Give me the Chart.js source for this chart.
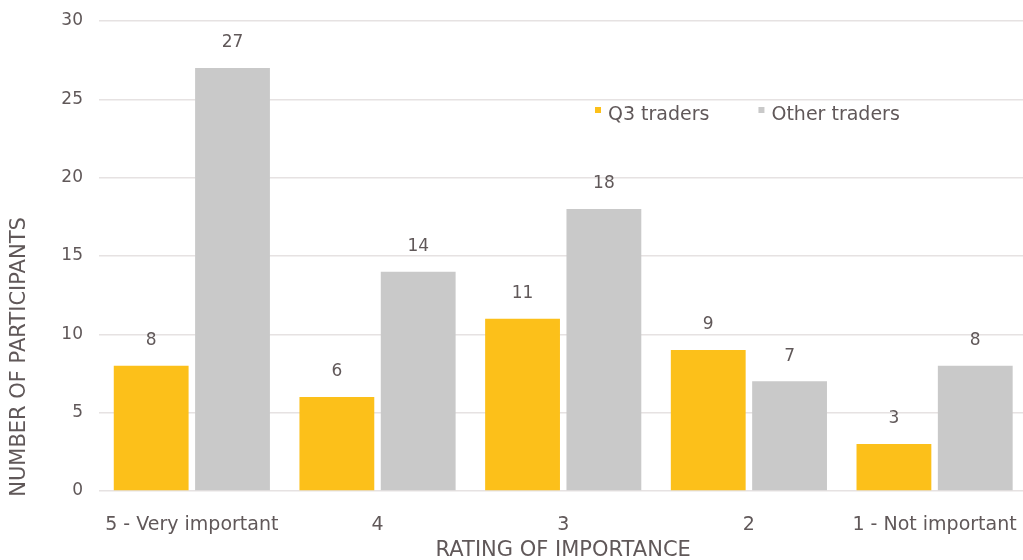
<!DOCTYPE html>
<html>
<head>
<meta charset="utf-8">
<script src="https://cdn.jsdelivr.net/npm/chart.js@4"></script>
<style>
  html, body { margin: 0; padding: 0; background: #fff; overflow: hidden; }
  #wrap { position: relative; width: 1032px; height: 560px; }
</style>
</head>
<body>
<div id="wrap"><canvas id="chart"></canvas></div>
<script>
const categories = ["5 - Very important", "4", "3", "2", "1 - Not important"];
const q3Traders = [8, 6, 11, 9, 3];
const otherTraders = [27, 14, 18, 7, 8];
const yTicks = [0, 5, 10, 15, 20, 25, 30];

const textColor = "#605859";
const fontFamily = "'DejaVu Sans', sans-serif";

// value labels above each bar
const valueLabels = {
  id: "valueLabels",
  afterDatasetsDraw(chart) {
    const ctx = chart.ctx;
    ctx.save();
    ctx.fillStyle = textColor;
    ctx.font = "17px " + fontFamily;
    ctx.textAlign = "center";
    ctx.textBaseline = "middle";
    chart.data.datasets.forEach((ds, i) => {
      chart.getDatasetMeta(i).data.forEach((bar, j) => {
        ctx.fillText(ds.data[j], bar.x, bar.y - 25);
      });
    });
    ctx.restore();
  }
};

// legend inside the plot, small squares sitting high
const insideLegend = {
  id: "insideLegend",
  afterDraw(chart) {
    const ctx = chart.ctx;
    ctx.save();
    ctx.font = "19px " + fontFamily;
    ctx.textBaseline = "middle";
    let x = 595;
    chart.data.datasets.forEach(ds => {
      ctx.fillStyle = ds.backgroundColor;
      ctx.fillRect(x, 107, 6, 6);
      ctx.fillStyle = textColor;
      ctx.fillText(ds.label, x + 13, 115);
      x += 13 + ctx.measureText(ds.label).width + 49;
    });
    ctx.restore();
  }
};

// y title, sits lower than the middle of the axis
const yTitle = {
  id: "yTitle",
  afterDraw(chart) {
    const ctx = chart.ctx;
    ctx.save();
    ctx.translate(20, 357);
    ctx.rotate(-Math.PI / 2);
    ctx.fillStyle = textColor;
    ctx.font = "21px " + fontFamily;
    ctx.textAlign = "center";
    ctx.textBaseline = "middle";
    ctx.fillText("NUMBER OF PARTICIPANTS", 0, 0);
    ctx.restore();
  }
};

new Chart(document.getElementById("chart").getContext("2d"), {
  type: "bar",
  data: {
    labels: categories,
    datasets: [
      { label: "Q3 traders", data: q3Traders, backgroundColor: "#fcc01a" },
      { label: "Other traders", data: otherTraders, backgroundColor: "#c9c9c9" }
    ]
  },
  options: {
    responsive: true,
    maintainAspectRatio: false,
    animation: false,
    categoryPercentage: 0.876,
    barPercentage: 0.92,
    layout: { padding: { top: 21, right: 3, left: 0, bottom: 0 } },
    plugins: {
      legend: { display: false },
      tooltip: { enabled: false }
    },
    scales: {
      x: {
        grid: { display: false },
        border: { display: false },
        ticks: {
          color: textColor,
          font: { family: fontFamily, size: 19 },
          padding: 15,
          maxRotation: 0
        },
        title: {
          display: true,
          text: "RATING OF IMPORTANCE",
          color: textColor,
          font: { family: fontFamily, size: 21 },
          padding: { top: 0, bottom: -3 }
        },
        afterFit(s) { s.height = 69; }
      },
      y: {
        min: 0,
        max: 30,
        afterBuildTicks(s) { s.ticks = yTicks.map(v => ({ value: v })); },
        grid: { color: "#e6e2e2", lineWidth: 1.5, drawTicks: false },
        border: { display: false },
        ticks: {
          color: textColor,
          font: { family: fontFamily, size: 17 },
          padding: 16
        },
        afterFit(s) {
          s.width = 99;
          s.paddingTop = 0;
          s.paddingBottom = 0;
        }
      }
    }
  },
  plugins: [valueLabels, insideLegend, yTitle]
});
</script>
</body>
</html>
